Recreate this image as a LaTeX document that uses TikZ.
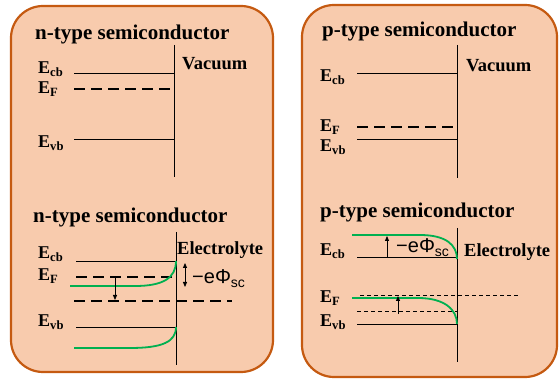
\documentclass[tikz,border=0pt]{standalone}
\usepackage{fontspec}
\setmainfont{Liberation Serif}
\newfontfamily\symfont{Liberation Sans}
\usetikzlibrary{arrows.meta}
\definecolor{panelfill}{RGB}{248,203,173}
\definecolor{paneledge}{RGB}{197,90,17}
\definecolor{bandgreen}{RGB}{0,176,80}

\begin{document}
\begin{tikzpicture}[x=1pt,y=-1pt,
  panel/.style={draw=paneledge,fill=panelfill,line width=2.2pt,rounded corners=32pt},
  title/.style={font=\fontsize{21}{23}\selectfont\bfseries,anchor=base west,inner sep=0pt},
  lvl/.style={font=\fontsize{18}{20}\selectfont\bfseries,anchor=base west,inner sep=0pt},
  side/.style={font=\fontsize{18.5}{20}\selectfont\bfseries,anchor=base west,inner sep=0pt},
  pot/.style={font=\fontsize{20}{22}\selectfont\symfont,anchor=base west,inner sep=0pt},
  level/.style={black,line width=0.8pt},
  fermi/.style={black,line width=2.4pt,dash pattern=on 11pt off 6pt},
  thinfermi/.style={black,line width=0.7pt,dash pattern=on 4pt off 3pt},
  bandbend/.style={bandgreen,line width=1.8pt},
  arr/.style={-{Triangle[length=5pt,width=4pt]},line width=0.8pt},
  dblarr/.style={{Triangle[length=5pt,width=4pt]}-{Triangle[length=5pt,width=4pt]},line width=0.8pt}
]
  \useasboundingbox (0,0) rectangle (560,379);
  % Panels
  \draw[panel] (11,6) rectangle (273,372);
  \draw[panel] (302,5) rectangle (557,377);

  % n-type, vacuum
  \node[title] (nvt) at (35,40) {n-type semiconductor};
  \draw[level] (174,45) -- (174,177);
  \node[lvl] (nvcb) at (38,74) {E\textsubscript{cb}};
  \node[lvl] (nvf) at (38,94) {E\textsubscript{F}};
  \node[lvl] (nvvb) at (38,148) {E\textsubscript{vb}};
  \node[side] (nvac) at (182,70) {Vacuum};
  \draw[level] (74,73) -- (174,73);
  \draw[fermi] (74,89) -- (171,89);
  \draw[level] (74,139) -- (174,139);

  % n-type, electrolyte
  \node[title] (net) at (33,223) {n-type semiconductor};
  \draw[level] (176,232) -- (176,365);
  \node[lvl] (necb) at (38,259) {E\textsubscript{cb}};
  \node[lvl] (nef) at (38,281) {E\textsubscript{F}};
  \node[lvl] (nevb) at (38,327) {E\textsubscript{vb}};
  \node[side] (nel) at (177,255) {Electrolyte};
  \node[pot] (nphi) at (192,284) {−eΦ\textsubscript{sc}};
  \draw[level] (76,261) -- (176,261);
  \draw[fermi] (76,277) -- (172,277);
  \draw[fermi] (74,301) -- (232,301);
  \draw[level] (76,327) -- (176,327);
  \draw[bandbend] (70,286) -- (135,286) .. controls (163,286) and (176,278) .. (176,261);
  \draw[bandbend] (74,348) -- (130,348) .. controls (162,348) and (176,342) .. (176,327);
  \coordinate (nefa) at (115,278);
  \coordinate (nefb) at (115,300);
  \draw[arr] (nefa) -- (nefb);
  \coordinate (nphia) at (185,263);
  \coordinate (nphib) at (185,287);
  \draw[dblarr] (nphia) -- (nphib);

  % p-type, vacuum
  \node[title] (pvt) at (322,37) {p-type semiconductor};
  \draw[level] (457,45) -- (457,178);
  \node[lvl] (pvcb) at (320,82) {E\textsubscript{cb}};
  \node[lvl] (pvf) at (320,132) {E\textsubscript{F}};
  \node[lvl] (pvvb) at (320,152) {E\textsubscript{vb}};
  \node[side] (pvac) at (466,72) {Vacuum};
  \draw[level] (357,73) -- (457,73);
  \draw[fermi] (357,127) -- (453,127);
  \draw[level] (357,139) -- (457,139);

  % p-type, electrolyte
  \node[title] (pet) at (320,218) {p-type semiconductor};
  \draw[level] (457,228) -- (457,362);
  \node[lvl] (pecb) at (320,256) {E\textsubscript{cb}};
  \node[lvl] (pef) at (320,303) {E\textsubscript{F}};
  \node[lvl] (pevb) at (320,327) {E\textsubscript{vb}};
  \node[side] (pel) at (464,257) {Electrolyte};
  \node[pot] (pphi) at (396,253) {−eΦ\textsubscript{sc}};
  \draw[level] (357,257) -- (457,257);
  \draw[thinfermi] (360,295) -- (518,295);
  \draw[thinfermi] (357,311) -- (457,311);
  \draw[level] (357,324) -- (457,324);
  \draw[bandbend] (352,235) -- (420,235) .. controls (446,235) and (457,245) .. (457,259);
  \draw[bandbend] (352,298) -- (418,298) .. controls (445,298) and (457,310) .. (457,324);
  \coordinate (pphia) at (387,257);
  \coordinate (pphib) at (387,236);
  \draw[arr] (pphia) -- (pphib);
  \coordinate (pefa) at (398,314);
  \coordinate (pefb) at (398,296);
  \draw[arr] (pefa) -- (pefb);
\end{tikzpicture}
\end{document}
